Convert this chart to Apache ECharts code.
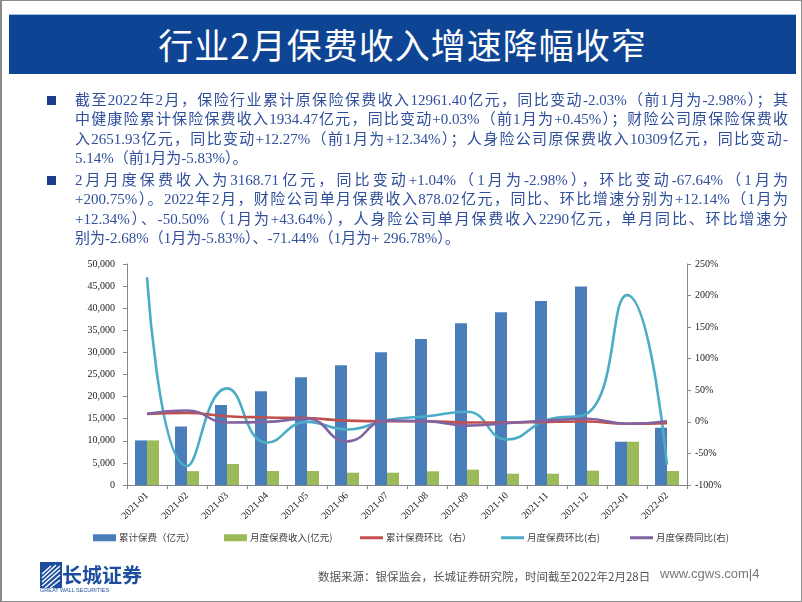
<!DOCTYPE html>
<html>
<head>
<meta charset="utf-8">
<script src="https://cdn.jsdelivr.net/npm/echarts@6/dist/echarts.min.js"></script>
<style>
  html,body{margin:0;padding:0;background:#fff;}
  body{width:802px;height:602px;position:relative;overflow:hidden;}
  #frame{position:absolute;left:0;top:0;width:802px;height:602px;box-sizing:border-box;border:1px solid #8a8a8a;border-left-width:2px;z-index:5;pointer-events:none;}
  #chart{position:absolute;left:0;top:0;width:802px;height:602px;z-index:1;}
  .ov{position:absolute;z-index:3;}
  #banner{left:9px;top:14px;width:787px;height:60px;background:#0d4493;border-top:1px solid #9ec3e6;box-sizing:border-box;}
  #title{left:9px;top:14px;width:787px;height:60px;line-height:60px;text-align:center;color:#fff;font-family:"Noto Sans CJK SC","Liberation Serif",serif;font-size:35px;letter-spacing:1px;}
  .ln{position:absolute;left:75px;width:713px;height:20px;line-height:20px;font-family:"Liberation Serif","Noto Sans CJK SC",serif;font-size:15px;color:#2f4f9c;white-space:nowrap;}
  .j{text-align:justify;text-align-last:justify;}
  .bul{position:absolute;left:47px;width:9px;height:9px;background:#1d3c8c;}
  #src{left:318px;top:568px;font-family:"Noto Sans CJK SC","Liberation Serif",serif;font-size:11.5px;color:#555;white-space:nowrap;}
  #web{left:660px;top:566px;font-family:"Liberation Sans",Arial,sans-serif;font-size:13px;color:#777;white-space:nowrap;}
  #logoTxt{left:62px;top:560px;font-family:"Noto Sans CJK SC",sans-serif;font-size:20px;font-weight:700;color:#1d4e9e;white-space:nowrap;letter-spacing:0px;}
  #logoSub{left:40px;top:587px;font-family:"Liberation Sans",Arial,sans-serif;font-size:5.5px;color:#1d4e9e;white-space:nowrap;}
</style>
</head>
<body>
<div id="chart"></div>
<div id="banner" class="ov"></div>
<div id="title" class="ov">行业2月保费收入增速降幅收窄</div>

<div class="bul ov" style="top:96px"></div>
<div class="ln ov j" style="top:90px">截至2022年2月，保险行业累计原保险保费收入12961.40亿元，同比变动-2.03%（前1月为-2.98%）；其</div>
<div class="ln ov j" style="top:109px">中健康险累计保险保费收入1934.47亿元，同比变动+0.03%（前1月为+0.45%）；财险公司原保险保费收</div>
<div class="ln ov j" style="top:129px">入2651.93亿元，同比变动+12.27%（前1月为+12.34%）；人身险公司原保费收入10309亿元，同比变动-</div>
<div class="ln ov" style="top:148px">5.14%（前1月为-5.83%）。</div>
<div class="bul ov" style="top:176px"></div>
<div class="ln ov j" style="top:170px">2月月度保费收入为3168.71亿元，同比变动+1.04%（1月为-2.98%），环比变动-67.64%（1月为</div>
<div class="ln ov j" style="top:189px">+200.75%）。2022年2月，财险公司单月保费收入878.02亿元，同比、环比增速分别为+12.14%（1月为</div>
<div class="ln ov j" style="top:209px">+12.34%）、-50.50%（1月为+43.64%），人身险公司单月保费收入2290亿元，单月同比、环比增速分</div>
<div class="ln ov" style="top:228px">别为-2.68%（1月为-5.83%）、-71.44%（1月为+ 296.78%）。</div>

<svg class="ov" style="left:40px;top:562px" width="22" height="26" viewBox="0 0 22 26">
  <rect x="0" y="0" width="22" height="26" fill="#1d4e9e"/>
  <path d="M2 24 L20 8 M2 20 L20 4 M2 16 L16 3 M2 12 L11 4 M5 26 L20 13 M10 26 L20 18" stroke="#fff" stroke-width="1.4" fill="none"/>
</svg>
<div id="logoTxt" class="ov">长城证券</div>
<div id="logoSub" class="ov">GREAT WALL SECURITIES</div>
<div id="src" class="ov">数据来源：银保监会，长城证券研究院，时间截至2022年2月28日</div>
<div id="web" class="ov">www.cgws.com|4</div>
<div id="frame"></div>

<script>
// ---- data ----
var categories = ['2021-01','2021-02','2021-03','2021-04','2021-05','2021-06','2021-07','2021-08','2021-09','2021-10','2021-11','2021-12','2022-01','2022-02'];
var cumPremium = [10093, 13230, 18100, 21190, 24360, 27070, 30010, 33030, 36580, 39060, 41630, 44900, 9792, 12961];
var monthlyPremium = [10093, 3136, 4750, 3170, 3170, 2790, 2790, 3090, 3470, 2560, 2560, 3240, 9792, 3169];
var cumChange = [12.7, 14, 9, 7, 6, 2, 1, 1, -1, -1, 0, 0.5, -2.98, -2.03];
var monthlyMoM = [229, -70, 53, -33, 0, -12, 3, 9, 16, -28, 3, 13, 200.75, -67.64];
var monthlyYoY = [12.7, 18, -1, 0, 5, -31, 2, 1, -6, -2, 2, 5, -2.98, 1.04];
var seriesNames = ['累计保费（亿元）','月度保费收入(亿元)','累计保费环比（右）','月度保费环比(右)','月度保费同比(右)'];
var colors = ['#4a7ebb','#9bbb59','#c0504d','#4bacc6','#8064a2'];

var chart = echarts.init(document.getElementById('chart'), null, {renderer:'canvas'});
var axisFont = {fontFamily:'Liberation Serif, serif', fontSize:10, color:'#222'};
var legendLeft = [88, 219, 355, 496, 625];
var legends = seriesNames.map(function(n, i){
  return {
    data:[{name:n, icon:'rect'}],
    left: legendLeft[i], top: 528,
    itemWidth: 23, itemHeight: i < 2 ? 7 : 3,
    itemGap: 0,
    textStyle:{fontFamily:'Noto Sans CJK SC, sans-serif', fontSize:9.5, color:'#404040', padding:[0,0,0,-2]}
  };
});
var lineSeries = [cumChange, monthlyMoM, monthlyYoY].map(function(d, i){
  return {
    name: seriesNames[i+2], type:'line', yAxisIndex:1, data:d,
    smooth:0.5, showSymbol:false, symbol:'none',
    lineStyle:{color:colors[i+2], width:2.6},
    itemStyle:{color:colors[i+2]}, z: 3 + (i===0?2:(i===1?1:3))
  };
});
chart.setOption({
  animation:false,
  color: colors,
  legend: legends,
  grid:{left:127, right:115, top:264, bottom:117, containLabel:false},
  xAxis:{
    type:'category', data:categories, boundaryGap:true,
    axisLine:{lineStyle:{color:'#868686'}},
    axisTick:{show:true, length:4, lineStyle:{color:'#868686'}},
    axisLabel:Object.assign({rotate:45, margin:9, interval:0}, axisFont)
  },
  yAxis:[{
    type:'value', min:0, max:50000, interval:5000,
    splitLine:{show:false},
    axisLine:{show:true, lineStyle:{color:'#868686'}},
    axisTick:{show:true, length:4, lineStyle:{color:'#868686'}},
    axisLabel:Object.assign({margin:12, formatter:function(v){return v.toLocaleString('en-US');}}, axisFont)
  },{
    type:'value', min:-100, max:250, interval:50,
    splitLine:{show:false},
    axisLine:{show:true, lineStyle:{color:'#868686'}},
    axisTick:{show:true, length:4, lineStyle:{color:'#868686'}},
    axisLabel:Object.assign({margin:8, formatter:'{value}%'}, axisFont)
  }],
  series:[
    {name:seriesNames[0], type:'bar', data:cumPremium, barWidth:12, barGap:'0%', itemStyle:{color:colors[0]}},
    {name:seriesNames[1], type:'bar', data:monthlyPremium, barWidth:12, barGap:'0%', itemStyle:{color:colors[1]}}
  ].concat(lineSeries)
});
</script>
</body>
</html>
